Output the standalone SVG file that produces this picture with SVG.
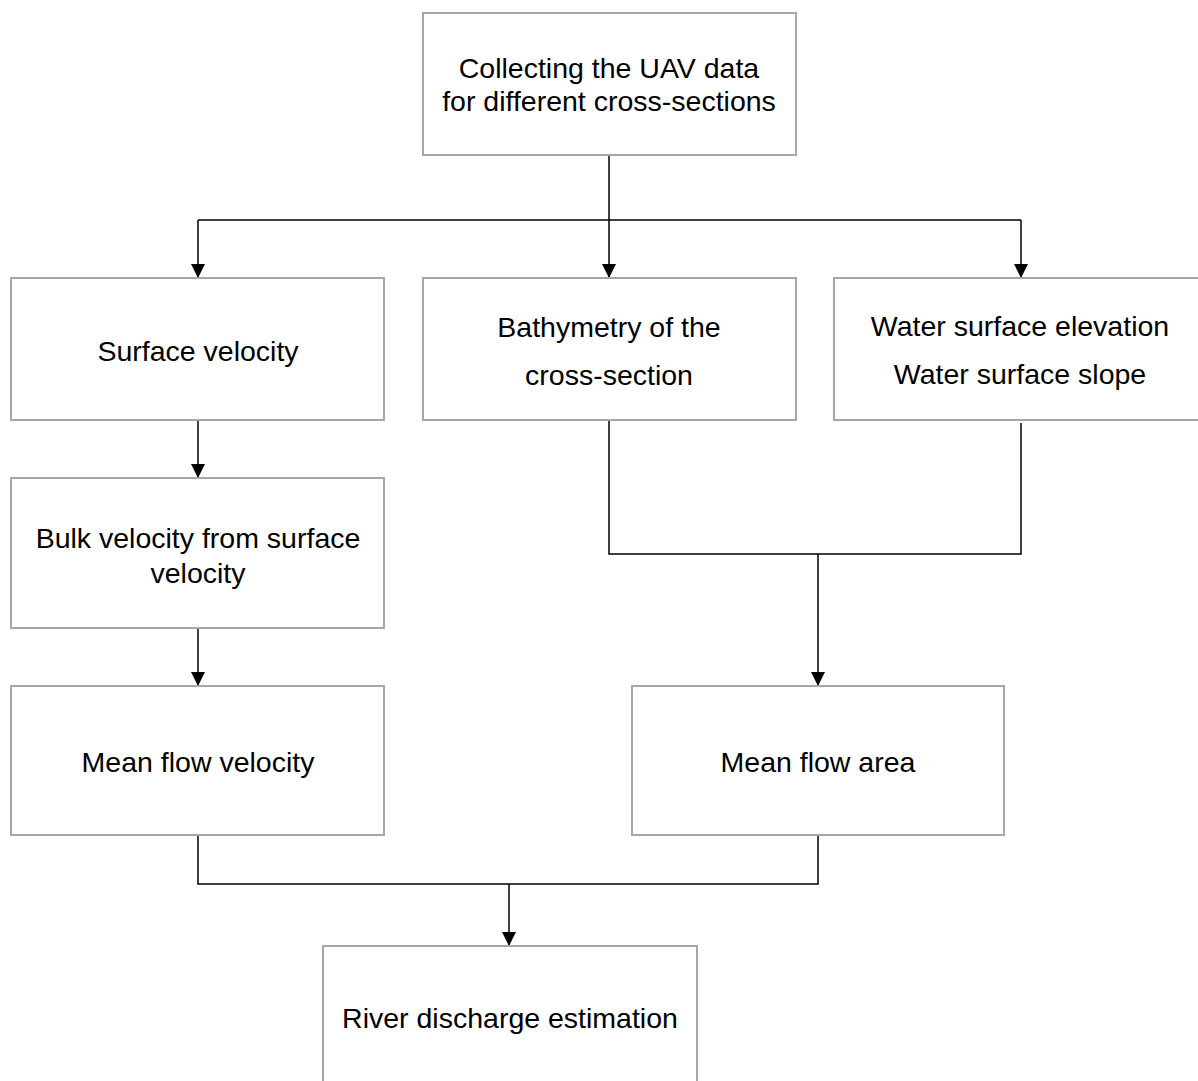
<svg xmlns="http://www.w3.org/2000/svg" width="1198" height="1081" viewBox="0 0 1198 1081">
<style>
.box{fill:#fff;stroke:#a6a6a6;stroke-width:2}
.t{font-family:"Liberation Sans",Arial,sans-serif;font-size:28.5px;fill:#000;text-anchor:middle}
.c{fill:none;stroke:#000;stroke-width:1.5}
</style>
<defs>
<marker id="ah2" viewBox="0 0 14 14" refX="14" refY="7" markerWidth="14" markerHeight="14" markerUnits="userSpaceOnUse" orient="auto">
<path d="M0,0 L14,7 L0,14 z" fill="#000"/>
</marker>
</defs>
<rect width="1198" height="1081" fill="#fff"/>
<g id="connectors">
<path class="c" d="M609,155 V220"/>
<path class="c" d="M198,220 H1021"/>
<path class="c" d="M198,220 V278" marker-end="url(#ah2)"/>
<path class="c" d="M609,220 V278" marker-end="url(#ah2)"/>
<path class="c" d="M1021,220 V278" marker-end="url(#ah2)"/>
<path class="c" d="M198,420 V478" marker-end="url(#ah2)"/>
<path class="c" d="M198,628 V686" marker-end="url(#ah2)"/>
<path class="c" d="M609,421 V554 H1021 V423"/>
<path class="c" d="M818,554 V686" marker-end="url(#ah2)"/>
<path class="c" d="M198,835 V884 H818 V835"/>
<path class="c" d="M509,884 V946" marker-end="url(#ah2)"/>
</g>
<g id="n1"><rect class="box" x="423" y="13" width="373" height="142"/>
<text class="t" x="609" y="78">Collecting the UAV data</text>
<text class="t" x="609" y="111">for different cross-sections</text></g>
<g id="n2"><rect class="box" x="11" y="278" width="373" height="142"/>
<text class="t" x="198" y="361">Surface velocity</text></g>
<g id="n3"><rect class="box" x="423" y="278" width="373" height="142"/>
<text class="t" x="609" y="337">Bathymetry of the</text>
<text class="t" x="609" y="385">cross-section</text></g>
<g id="n4"><rect class="box" x="834" y="278" width="373" height="142"/>
<text class="t" x="1020" y="336">Water surface elevation</text>
<text class="t" x="1020" y="384">Water surface slope</text></g>
<g id="n5"><rect class="box" x="11" y="478" width="373" height="150"/>
<text class="t" x="198" y="548">Bulk velocity from surface</text>
<text class="t" x="198" y="583">velocity</text></g>
<g id="n6"><rect class="box" x="11" y="686" width="373" height="149"/>
<text class="t" x="198" y="772">Mean flow velocity</text></g>
<g id="n7"><rect class="box" x="632" y="686" width="372" height="149"/>
<text class="t" x="818" y="772">Mean flow area</text></g>
<g id="n8"><rect class="box" x="323" y="946" width="374" height="150"/>
<text class="t" x="510" y="1028">River discharge estimation</text></g>
</svg>
